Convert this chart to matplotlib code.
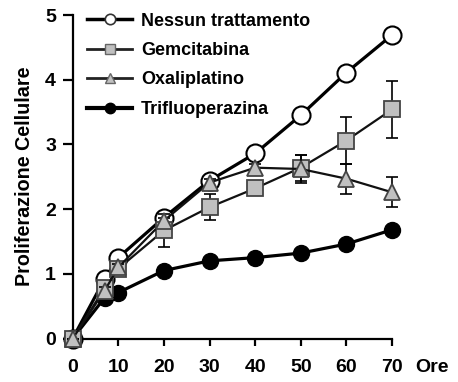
import matplotlib
matplotlib.use("Agg")
import matplotlib.pyplot as plt
from matplotlib.lines import Line2D

plt.rcParams['font.family'] = ['Liberation Sans', 'DejaVu Sans']

hours = [0, 7, 10, 20, 30, 40, 50, 60, 70]
nessun = [0, 0.92, 1.25, 1.87, 2.44, 2.86, 3.45, 4.11, 4.69]
nessun_err = [0, 0.03, 0.03, 0.05, 0.05, 0.05, 0.05, 0.05, 0.05]
gem = [0, 0.78, 1.08, 1.67, 2.03, 2.32, 2.64, 3.06, 3.54]
gem_err = [0, 0.05, 0.05, 0.26, 0.2, 0.08, 0.2, 0.37, 0.44]
oxa = [0, 0.74, 1.10, 1.82, 2.41, 2.64, 2.62, 2.47, 2.26]
oxa_err = [0, 0.05, 0.05, 0.05, 0.05, 0.05, 0.22, 0.23, 0.23]
trif = [0, 0.63, 0.71, 1.05, 1.20, 1.25, 1.32, 1.46, 1.68]
trif_err = [0, 0.02, 0.02, 0.03, 0.03, 0.03, 0.03, 0.03, 0.03]

labels = ["Nessun trattamento", "Gemcitabina", "Oxaliplatino", "Trifluoperazina"]
xticks = [0, 10, 20, 30, 40, 50, 60, 70]
yticks = [0, 1, 2, 3, 4, 5]

W, H = 458, 382
fig = plt.figure(figsize=(W / 100, H / 100), dpi=100)
ax = fig.add_axes([72.7 / W, 1 - 338.5 / H, (392 - 72.7) / W, (338.5 - 15) / H])

gray = "#c0c0c0"
series = [
    (nessun, nessun_err, dict(marker='o', ms=13, mfc='white', mec='black', mew=1.5, color='black', lw=2.3), 3),
    (gem, gem_err, dict(marker='s', ms=12, mfc=gray, mec='#444444', mew=1.3, color='#111111', lw=1.6), 4),
    (oxa, oxa_err, dict(marker='^', ms=12, mfc=gray, mec='#444444', mew=1.3, color='#111111', lw=1.6), 5),
    (trif, trif_err, dict(marker='o', ms=11.5, mfc='black', mec='black', mew=1.0, color='black', lw=2.3), 2),
]
for vals, err, st, z in series:
    ax.errorbar(hours, vals, yerr=err, fmt='none', ecolor='black', elinewidth=1.2,
                capsize=4.5, capthick=1.2, zorder=z - 0.5, clip_on=False)
    ax.plot(hours, vals, zorder=z, clip_on=False, **st)

ax.set_xlim(0, 70)
ax.set_ylim(0, 5)
ax.set_xticks(xticks)
ax.set_yticks(yticks)
ax.set_xticklabels([str(v) for v in xticks], fontsize=14, fontweight='bold')
ax.set_yticklabels([str(v) for v in yticks], fontsize=14, fontweight='bold')
for s in ['top', 'right']:
    ax.spines[s].set_visible(False)
for s in ['left', 'bottom']:
    ax.spines[s].set_linewidth(1.6)
ax.tick_params(axis='both', direction='out', width=1.6)
ax.tick_params(axis='x', length=5, pad=9.5)
ax.tick_params(axis='y', length=7, pad=5)

ax.set_ylabel("Proliferazione Cellulare", fontsize=14.2, fontweight='bold', labelpad=8)
ax.annotate("Ore", xy=(70, 0), xycoords='data', xytext=(17, -14.5), textcoords='offset points',
            ha='left', va='top', fontsize=14, fontweight='bold', annotation_clip=False)

handles = [
    Line2D([], [], marker='o', ms=7.5, mfc='white', mec='#333333', mew=1.2, color='black', lw=2.5),
    Line2D([], [], marker='s', ms=7.5, mfc=gray, mec='#666666', mew=1.0, color='#222222', lw=2.0),
    Line2D([], [], marker='^', ms=7.5, mfc=gray, mec='#666666', mew=1.0, color='#222222', lw=2.0),
    Line2D([], [], marker='o', ms=7.5, mfc='black', mec='black', mew=1.0, color='black', lw=3.0),
]
leg = fig.legend(handles, labels, loc='upper left', bbox_to_anchor=(87 / W, 1 - 12.5 / H),
                 frameon=False, borderpad=0, borderaxespad=0, handlelength=2.5,
                 handletextpad=0.5, labelspacing=0.69,
                 prop={'size': 13, 'weight': 'bold'})

fig.savefig("out.png", dpi=100)
